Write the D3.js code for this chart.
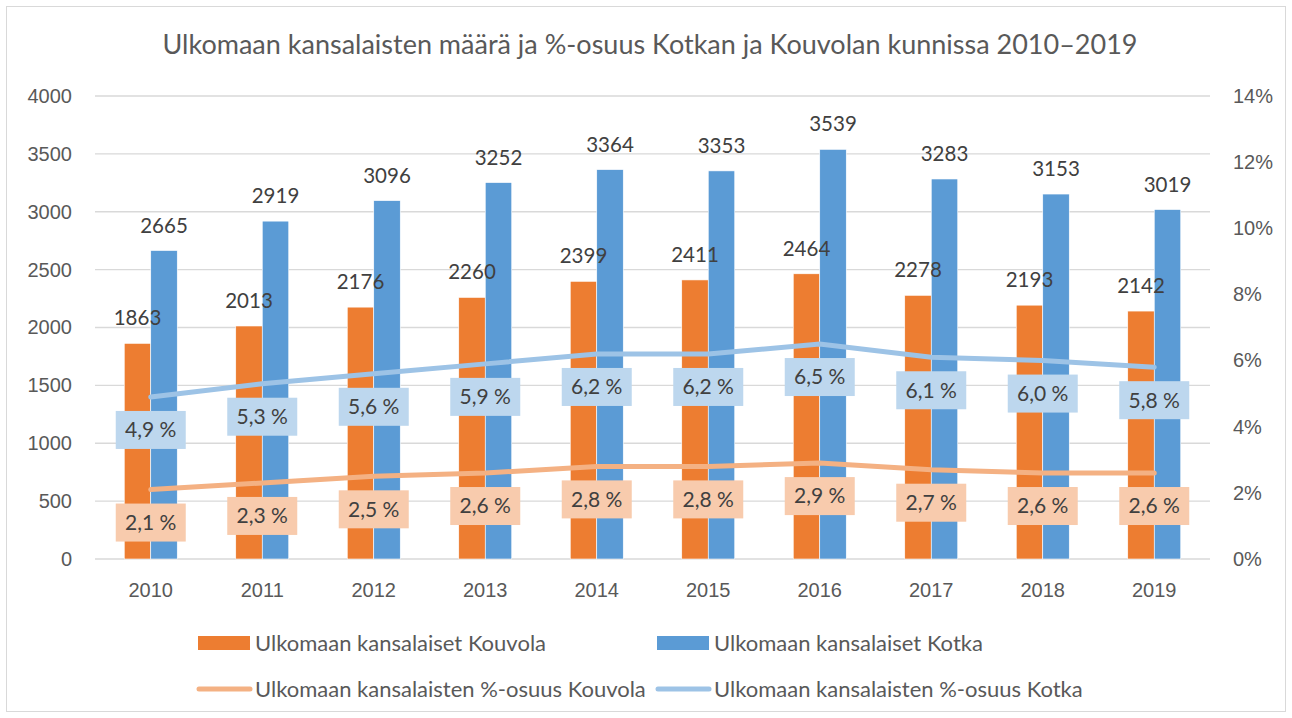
<!DOCTYPE html>
<html>
<head>
<meta charset="utf-8">
<script src="https://cdn.jsdelivr.net/npm/d3@7"></script>
<style>
  body { margin: 0; background: #fff; }
  svg { font-family: Lato, "Open Sans", sans-serif; }
  .grid line { stroke: #d9d9d9; stroke-width: 1.3; }
  .tick text { fill: #595959; font-size: 20px; }
</style>
</head>
<body>
<svg id="chart" width="1292" height="718"></svg>
<script>
const years = ["2010", "2011", "2012", "2013", "2014", "2015", "2016", "2017", "2018", "2019"];
const kouvola = [1863, 2013, 2176, 2260, 2399, 2411, 2464, 2278, 2193, 2142];
const kotka = [2665, 2919, 3096, 3252, 3364, 3353, 3539, 3283, 3153, 3019];
const kouvolaPct = [2.1, 2.3, 2.5, 2.6, 2.8, 2.8, 2.9, 2.7, 2.6, 2.6];
const kotkaPct = [4.9, 5.3, 5.6, 5.9, 6.2, 6.2, 6.5, 6.1, 6.0, 5.8];
const leftTicks = [0, 500, 1000, 1500, 2000, 2500, 3000, 3500, 4000];
const rightTicks = [0, 2, 4, 6, 8, 10, 12, 14];

const svg = d3.select("#chart");
const plotLeft = 95, plotRight = 1210, plotTop = 96, plotBottom = 559;

svg.append("rect")
    .attr("x", 6.5).attr("y", 6.5)
    .attr("width", 1279).attr("height", 705)
    .attr("fill", "#fff").attr("stroke", "#d9d9d9");

svg.append("text")
    .attr("x", 650).attr("y", 54)
    .attr("text-anchor", "middle")
    .attr("fill", "#595959")
    .style("font-size", "27px")
    .text("Ulkomaan kansalaisten määrä ja %-osuus Kotkan ja Kouvolan kunnissa 2010–2019");

const x = d3.scaleBand().domain(years).range([plotLeft, plotRight]);
const y = d3.scaleLinear().domain([0, 4000]).range([plotBottom, plotTop]);
const y2 = d3.scaleLinear().domain([0, 14]).range([plotBottom, plotTop]);
const barW = 26.5;

// gridlines
svg.append("g").attr("class", "grid")
    .selectAll("line").data(leftTicks).join("line")
    .attr("x1", plotLeft).attr("x2", plotRight)
    .attr("y1", d => y(d)).attr("y2", d => y(d));

const yAxis = svg.append("g")
    .attr("transform", `translate(${plotLeft - 23},0)`)
    .call(d3.axisLeft(y).tickValues(leftTicks).tickSize(0).tickPadding(0).tickFormat(d3.format("d")));
yAxis.select(".domain").remove();

const y2Axis = svg.append("g")
    .attr("transform", `translate(${plotRight + 23},0)`)
    .call(d3.axisRight(y2).tickValues(rightTicks).tickSize(0).tickPadding(0).tickFormat(d => d + "%"));
y2Axis.select(".domain").remove();

const xAxis = svg.append("g")
    .attr("transform", `translate(0,${plotBottom + 16})`)
    .call(d3.axisBottom(x).tickSize(0).tickPadding(8));
xAxis.select(".domain").remove();

// bars
const series = [
    {vals: kouvola, color: "#ed7d31", off: -barW},
    {vals: kotka, color: "#5b9bd5", off: 0}
];
series.forEach(s => {
    svg.append("g").selectAll("rect").data(years).join("rect")
        .attr("x", (d) => x(d) + x.bandwidth() / 2 + s.off)
        .attr("y", (d, i) => y(s.vals[i]))
        .attr("width", barW)
        .attr("height", (d, i) => plotBottom - y(s.vals[i]))
        .attr("fill", s.color)
        .attr("stroke", "#fff").attr("stroke-width", 0.6);
});
series.forEach(s => {
    svg.append("g").selectAll("text").data(years).join("text")
        .attr("x", (d) => x(d) + x.bandwidth() / 2 + s.off + barW / 2)
        .attr("y", (d, i) => y(s.vals[i]) - 18)
        .attr("text-anchor", "middle")
        .attr("fill", "#404040")
        .style("font-size", "20.5px")
        .text((d, i) => s.vals[i]);
});

// percentage lines
const lines = [
    {vals: kouvolaPct, color: "#f4b183", box: "#f8cbad"},
    {vals: kotkaPct, color: "#9dc3e6", box: "#bdd7ee"}
];
const line = d3.line().x((d, i) => x(years[i]) + x.bandwidth() / 2).y(d => y2(d));
lines.forEach(l => {
    svg.append("path").datum(l.vals)
        .attr("d", line)
        .attr("fill", "none")
        .attr("stroke", l.color)
        .attr("stroke-width", 5)
        .attr("stroke-linecap", "round");
    const g = svg.append("g");
    const lbl = g.selectAll("g").data(l.vals).join("g")
        .attr("transform", (d, i) => `translate(${x(years[i]) + x.bandwidth() / 2},${y2(d) + 33})`);
    lbl.append("rect")
        .attr("x", -35).attr("y", -19)
        .attr("width", 70).attr("height", 38)
        .attr("fill", l.box);
    lbl.append("text")
        .attr("text-anchor", "middle")
        .attr("dy", "0.35em")
        .attr("fill", "#404040")
        .style("font-size", "21px")
        .text(d => d3.format(".1f")(d).replace(".", ",") + " %");
});

// legend
const legend = [
    {label: "Ulkomaan kansalaiset Kouvola", color: "#ed7d31", type: "bar", x: 198, y: 643},
    {label: "Ulkomaan kansalaiset Kotka", color: "#5b9bd5", type: "bar", x: 657, y: 643},
    {label: "Ulkomaan kansalaisten %-osuus Kouvola", color: "#f4b183", type: "line", x: 198, y: 689},
    {label: "Ulkomaan kansalaisten %-osuus Kotka", color: "#9dc3e6", type: "line", x: 657, y: 689}
];
const lg = svg.append("g").selectAll("g").data(legend).join("g")
    .attr("transform", d => `translate(${d.x},${d.y})`);
lg.filter(d => d.type === "bar").append("rect")
    .attr("x", 0).attr("y", -7).attr("width", 52).attr("height", 14)
    .attr("fill", d => d.color);
lg.filter(d => d.type === "line").append("line")
    .attr("x1", 1).attr("x2", 52)
    .attr("stroke", d => d.color).attr("stroke-width", 5)
    .attr("stroke-linecap", "round");
lg.append("text")
    .attr("x", 57).attr("dy", "0.35em")
    .attr("fill", "#595959")
    .style("font-size", "22px")
    .text(d => d.label);
</script>
</body>
</html>
